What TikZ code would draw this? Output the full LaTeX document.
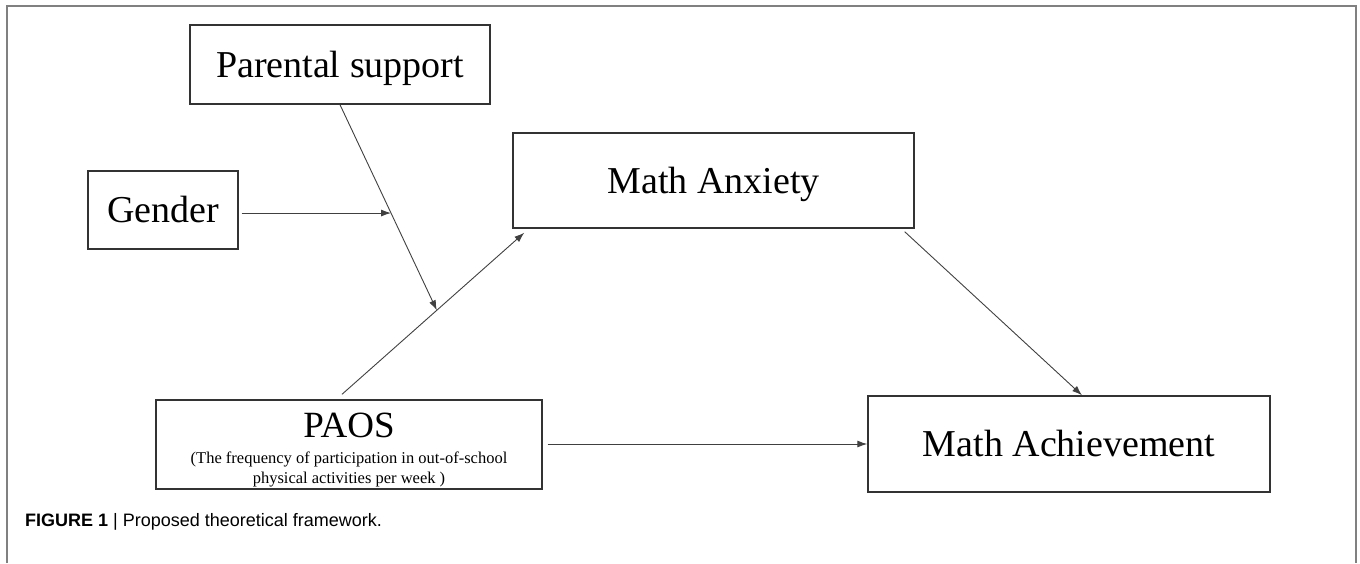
\documentclass[tikz,border=0pt]{standalone}
\usepackage{fontspec}
\setmainfont{Liberation Serif}
\newfontfamily\capsans{Liberation Sans}
\usetikzlibrary{arrows.meta,calc}

\begin{document}
\begin{tikzpicture}[x=1pt, y=-1pt,
  box/.style = {draw=black!80, line width=1.4pt, inner sep=0pt,
    text height=25pt, text depth=0pt,
    font=\fontsize{38}{40}\selectfont},
  link/.style = {draw=black!75, line width=0.9pt,
    -{Latex[length=10pt,width=7pt]}}]
  \useasboundingbox (0,0) rectangle (1360,563);
  \draw[black!50, line width=1.6pt] (7,563) -- (7,6) -- (1356,6) -- (1356,563);

  \node[box, minimum width=300pt, minimum height=79pt] (ps) at (340,64.5) {Parental support};
  \node[box, minimum width=150pt, minimum height=78pt] (gender) at (163,210) {Gender};
  \node[box, minimum width=401pt, minimum height=95pt] (ma) at (713.5,180.5) {Math Anxiety};
  \node[box, minimum width=402pt, minimum height=96pt] (ach) at (1069,444) {Math Achievement};
  \node[box, minimum width=386pt, text height=83pt, text depth=6pt, align=center,
    font=\fontsize{16.5}{20}\selectfont] (paos) at (349,444.5)
    {{\fontsize{37}{40}\selectfont PAOS}\\[6pt]
     (The frequency of participation in out-of-school\\
     physical activities per week )};

  \coordinate (paosout) at ([xshift=-7pt,yshift=5pt]paos.north);
  \coordinate (main) at ([xshift=12pt,yshift=-4pt]ma.south west);
  \coordinate (modpt) at ($(paosout)!0.52!(main)$);
  \coordinate (modgender) at ($(ps.south)!0.527!(modpt)$);

  \draw[link] (paosout) -- (main);
  \draw[link] (ps.south) -- (modpt);
  \draw[link] ([xshift=3pt]gender.east |- modgender) -- (modgender);
  \draw[link] ([xshift=-10pt,yshift=-3pt]ma.south east) -- ([xshift=13pt]ach.north);
  \draw[link] ([xshift=5pt]paos.east |- ach.west) -- (ach.west);

  \node[anchor=base west, inner sep=0pt, font=\capsans\fontsize{18}{20}\selectfont] (caption) at (25,526)
    {\textbf{FIGURE 1} | Proposed theoretical framework.};
\end{tikzpicture}
\end{document}
